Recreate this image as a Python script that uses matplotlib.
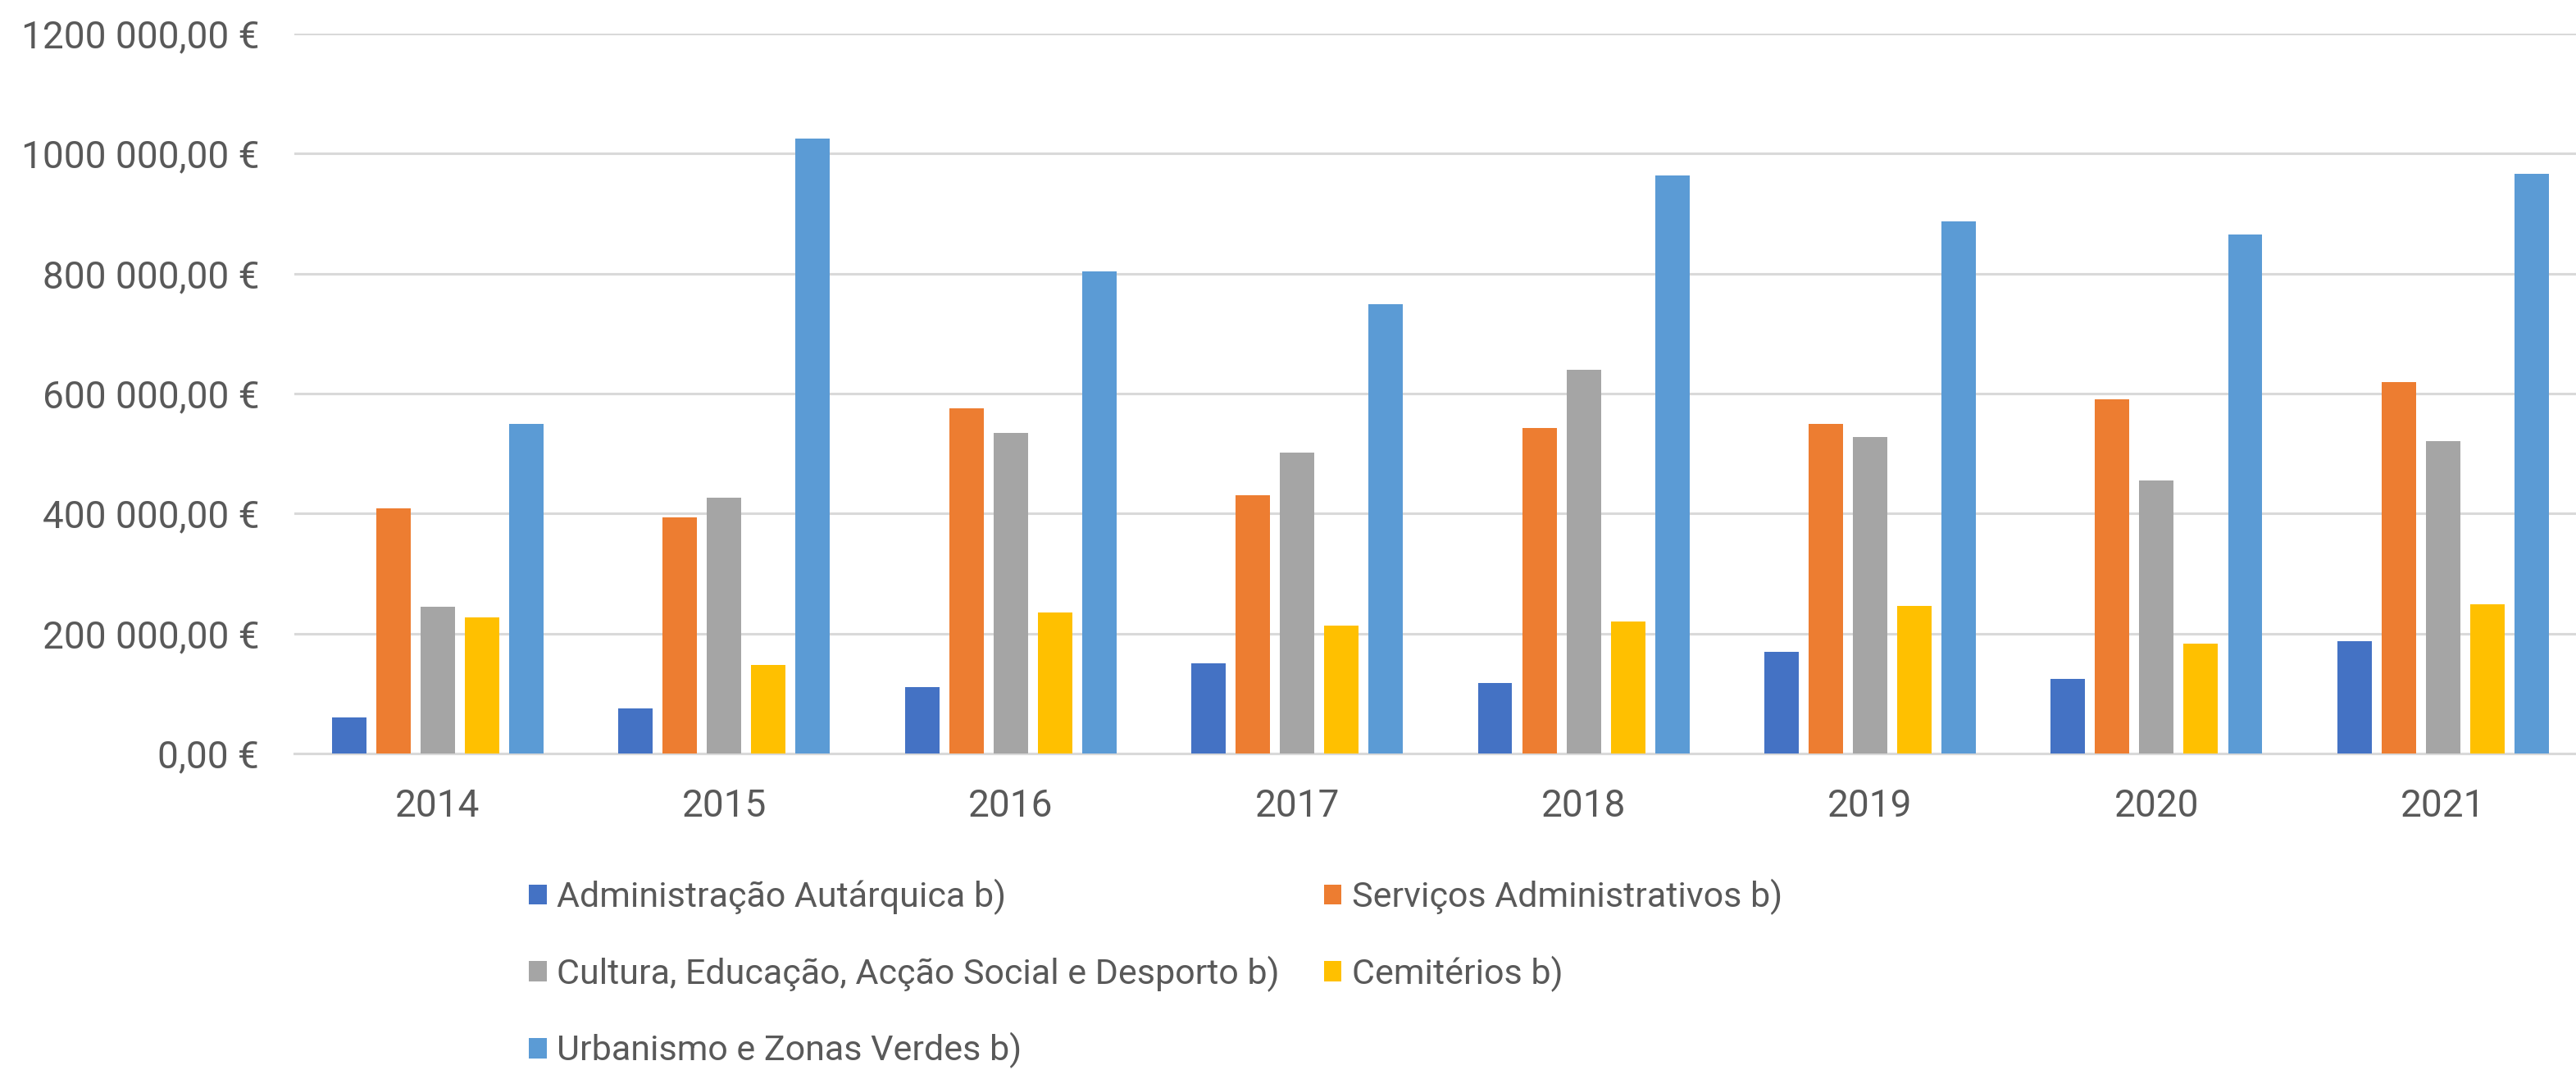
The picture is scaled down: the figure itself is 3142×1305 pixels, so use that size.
import numpy as np
from matplotlib import pyplot as plt
from matplotlib.ticker import FuncFormatter, MultipleLocator

plt.rcParams['font.family'] = ['Roboto', 'DejaVu Sans']

years = ['2014', '2015', '2016', '2017', '2018', '2019', '2020', '2021']

series_names = [
    'Administração Autárquica b)',
    'Serviços Administrativos b)',
    'Cultura, Educação, Acção Social e Desporto b)',
    'Cemitérios b)',
    'Urbanismo e Zonas Verdes b)',
]

admin = [60000, 75000, 111000, 150000, 118000, 169000, 125000, 187000]
servicos = [408000, 394000, 575000, 431000, 543000, 550000, 590000, 619000]
cultura = [245000, 426000, 535000, 502000, 640000, 528000, 455000, 521000]
cemiterios = [227000, 147000, 235000, 213000, 220000, 246000, 183000, 249000]
urbanismo = [550000, 1025000, 803000, 749000, 964000, 887000, 865000, 966000]

colors = ['#4472C4', '#ED7D31', '#A5A5A5', '#FFC000', '#5B9BD5']
TEXT = '#595959'
GRID = '#D9D9D9'


def euro(v, pos):
    """Portuguese style: 1200 000,00 €"""
    v = int(round(v))
    if v < 1000:
        return f'{v},00 €'
    return f'{v // 1000} {v % 1000:03d},00 €'


def plot_figure(filename):
    fig = plt.figure(figsize=(31.42, 13.05), dpi=100)
    ax = fig.add_axes([0.1143, 0.2958, 0.8857, 0.6728])

    data = [admin, servicos, cultura, cemiterios, urbanismo]
    x = np.arange(len(years))
    width = 0.12
    pitch = 0.1546

    handles = []
    for i, vals in enumerate(data):
        b = ax.bar(x + (i - 2) * pitch, vals, width, color=colors[i], label=series_names[i], zorder=3)
        handles.append(b)

    ax.set_xlim(-0.5, 7.464)
    ax.set_ylim(0, 1200000)
    ax.yaxis.set_major_locator(MultipleLocator(200000))
    ax.yaxis.set_major_formatter(FuncFormatter(euro))
    ax.set_xticks(x)
    ax.set_xticklabels(years)

    ax.grid(True, axis='y', color=GRID, linewidth=2.2, zorder=0)
    ax.set_axisbelow(True)
    for s in ['top', 'right', 'left']:
        ax.spines[s].set_visible(False)
    ax.spines['bottom'].set_color(GRID)
    ax.spines['bottom'].set_linewidth(2.2)

    ax.tick_params(axis='both', length=0, labelsize=33, labelcolor=TEXT)
    ax.tick_params(axis='y', pad=31)
    ax.tick_params(axis='x', pad=30)

    # row-major order in 2 columns
    order = [0, 2, 4, 1, 3]
    fig.legend([handles[i] for i in order], [series_names[i] for i in order],
               ncol=2, loc='upper left', bbox_to_anchor=(0.2053, 0.1785),
               frameon=False, fontsize=31, labelcolor=TEXT, borderpad=0,
               borderaxespad=0, handlelength=0.5, handleheight=0.5,
               handletextpad=0.3, columnspacing=1.25, labelspacing=1.15)

    plt.savefig(filename, format='png', dpi=100)
    plt.close(fig)


def main():
    plot_figure('out.png')


if __name__ == '__main__':
    main()
